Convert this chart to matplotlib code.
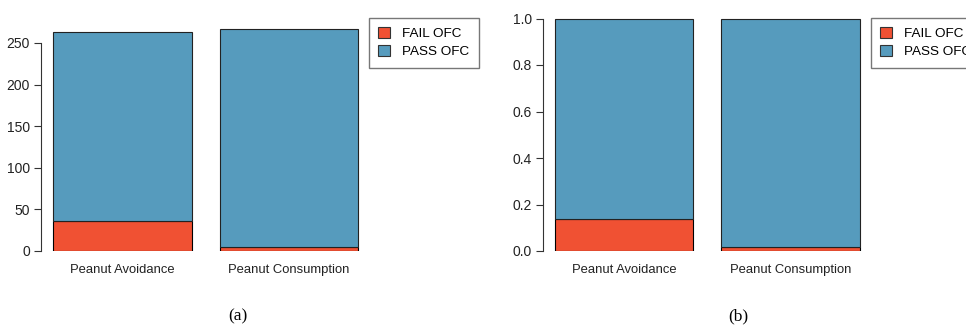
import matplotlib
matplotlib.use("Agg")
import matplotlib.pyplot as plt
from matplotlib.patches import Patch

categories = ["Peanut Avoidance", "Peanut Consumption"]
fail_counts = [36, 5]
pass_counts = [227, 262]
legend_labels = ["FAIL OFC", "PASS OFC"]
count_ticks = [0, 50, 100, 150, 200, 250]
prop_ticks = [0.0, 0.2, 0.4, 0.6, 0.8, 1.0]
prop_tick_labels = ["0.0", "0.2", "0.4", "0.6", "0.8", "1.0"]

totals = [f + p for f, p in zip(fail_counts, pass_counts)]
fail_prop = [f / t for f, t in zip(fail_counts, totals)]
pass_prop = [p / t for p, t in zip(pass_counts, totals)]

RED = "#F05133"
BLUE = "#569BBD"

plt.rcParams['font.family'] = ['Liberation Sans', 'DejaVu Sans']

W, H = 966, 327
fig = plt.figure(figsize=(W / 100, H / 100), dpi=100)


def px_axes(left, right, bottom, top):
    return fig.add_axes([left / W, (H - bottom) / H, (right - left) / W, (bottom - top) / H])


def style(ax, ticks, labels, ymax):
    for s in ["top", "right", "bottom"]:
        ax.spines[s].set_visible(False)
    ax.spines["left"].set_bounds(ticks[0], ticks[-1])
    ax.spines["left"].set_linewidth(0.8)
    ax.spines["left"].set_color("#333333")
    ax.set_yticks(ticks)
    ax.set_yticklabels(labels)
    ax.tick_params(axis="y", length=5, width=0.8, color="#333333", labelsize=10, pad=3, labelcolor="#222222")
    ax.tick_params(axis="x", length=0, labelsize=9.4, pad=15.6, labelcolor="#222222")
    ax.set_xticks(range(len(categories)))
    ax.set_xticklabels(categories)
    for t in ax.get_xticklabels():
        t.set_verticalalignment("baseline")
    ax.set_ylim(0, ymax)
    ax.set_xlim(-0.488, 1.485)
    ax.patch.set_visible(False)


x = list(range(len(categories)))
w = 0.832

ax1 = px_axes(41, 370, 251, 18)
ax1.bar(x, fail_counts, width=w, color=RED, edgecolor="black", linewidth=0.8)
ax1.bar(x, pass_counts, width=w, bottom=fail_counts, color=BLUE, edgecolor="#222222", linewidth=0.8)
style(ax1, count_ticks, [str(t) for t in count_ticks], (251 - 18) / (208 / 250))

ax2 = px_axes(543, 871, 251, 18)
ax2.bar(x, fail_prop, width=w, color=RED, edgecolor="black", linewidth=0.8)
ax2.bar(x, pass_prop, width=w, bottom=fail_prop, color=BLUE, edgecolor="#222222", linewidth=0.8)
style(ax2, prop_ticks, prop_tick_labels, (251 - 18) / 232.5)

handles = [Patch(facecolor=RED, edgecolor="#333333", linewidth=0.8),
           Patch(facecolor=BLUE, edgecolor="#333333", linewidth=0.8)]
for lx in (369, 871):
    leg = fig.legend(handles, legend_labels, loc="upper left",
                     bbox_to_anchor=(lx / W, (H - 18) / H), bbox_transform=fig.transFigure,
                     fontsize=9.7, frameon=True, fancybox=False, borderaxespad=0,
                     handlelength=0.85, handleheight=0.85, handletextpad=0.9,
                     labelspacing=0.35, borderpad=0.7, edgecolor="#555555")
    leg.get_frame().set_linewidth(1.0)

fig.text(238 / W, 1 - 316.5 / H, "(a)", family=["Liberation Serif", "DejaVu Serif"], fontsize=12.5,
         ha="center", va="center")
fig.text(738 / W, 1 - 316.5 / H, "(b)", family=["Liberation Serif", "DejaVu Serif"], fontsize=12.5,
         ha="center", va="center")

fig.savefig("out.png", dpi=100)
